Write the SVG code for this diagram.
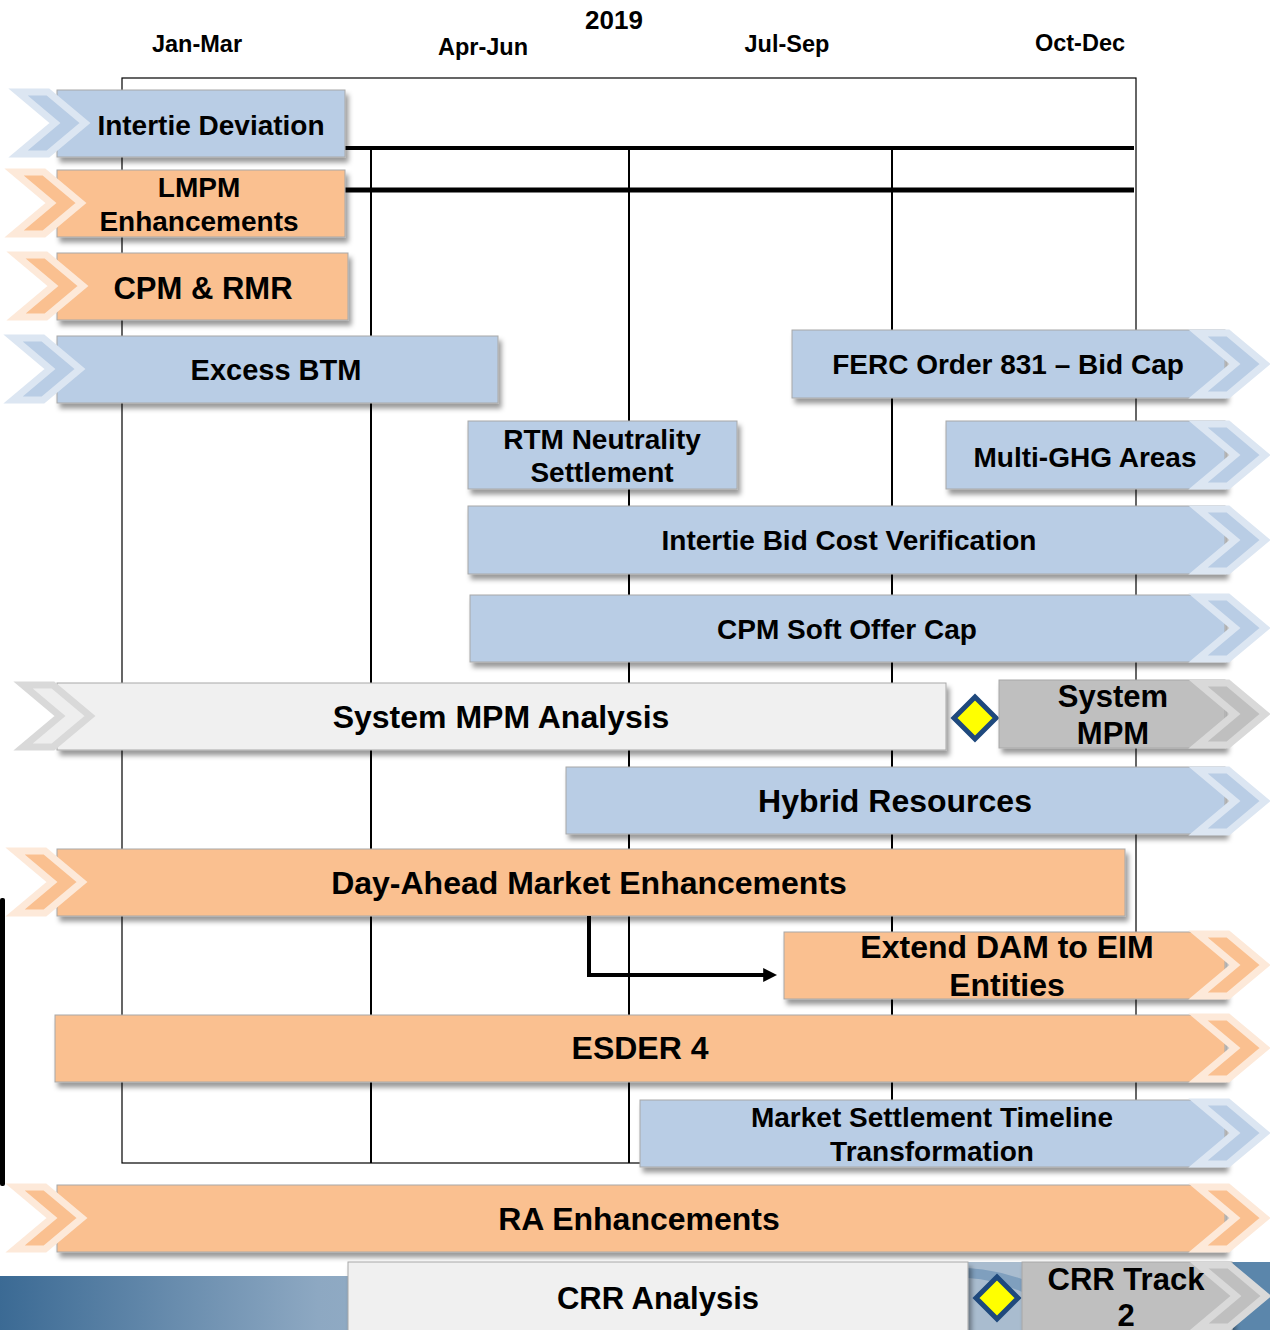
<svg xmlns="http://www.w3.org/2000/svg" xmlns:xlink="http://www.w3.org/1999/xlink" width="1270" height="1330" viewBox="0 0 1270 1330">
<style>
text{font-family:"Liberation Sans",Arial,sans-serif;font-weight:bold;fill:#000;text-anchor:middle}
.hdr{font-size:23.5px}
.t28{font-size:28px}
.t32{font-size:32px}
.bar{stroke:#a8a8a8;stroke-width:1;filter:url(#sh)}
.blue{fill:#b9cde5}
.orange{fill:#fac090}
.lgrey{fill:#f0f0f0}
.grey{fill:#bfbfbf}
.cb{fill:#b9cde5;stroke:#dce6f2;stroke-width:7;stroke-linejoin:miter}
.co{fill:#fac090;stroke:#fde9d9;stroke-width:7;stroke-linejoin:miter}
.cl{fill:#eeeeee;stroke:#d9d9d9;stroke-width:7;stroke-linejoin:miter}
.cg{fill:#bfbfbf;stroke:#d9d9d9;stroke-width:7;stroke-linejoin:miter}
.grid{stroke:#000;fill:none}
.dia{fill:#ffff00;stroke:#1f497d;stroke-width:5;stroke-linejoin:miter}
</style>
<defs>
<filter id="sh" x="-5%" y="-20%" width="115%" height="160%">
<feDropShadow dx="3" dy="5" stdDeviation="2.5" flood-color="#000" flood-opacity="0.4"/>
</filter>
<path id="chev" d="M3,3 H33 L70,34 L33,65 H3 L40,34 Z"/>
<marker id="ah" markerWidth="14" markerHeight="14" markerUnits="userSpaceOnUse" viewBox="0 0 10 10" refX="2" refY="5" orient="auto">
<path d="M0,0 L10,5 L0,10 Z" fill="#000"/>
</marker>
<linearGradient id="bg" x1="0" y1="0" x2="1" y2="0">
<stop offset="0" stop-color="#3b6a94"/>
<stop offset="0.25" stop-color="#8da8c2"/>
<stop offset="0.55" stop-color="#a8bccf"/>
<stop offset="0.8" stop-color="#9fb4c9"/>
<stop offset="1" stop-color="#4d7ca4"/>
</linearGradient>
</defs>

<!-- header -->
<g id="header">
<text x="614" y="29" style="font-size:26px">2019</text>
<text class="hdr" x="197" y="52">Jan-Mar</text>
<text class="hdr" x="483" y="55">Apr-Jun</text>
<text class="hdr" x="787" y="52">Jul-Sep</text>
<text class="hdr" x="1080" y="51">Oct-Dec</text>
</g>

<!-- frame and grid -->
<g id="grid" class="grid">
<rect x="122" y="78" width="1014" height="1085" stroke-width="1.2"/>
<line x1="371" y1="148" x2="371" y2="1163" stroke-width="2"/>
<line x1="629" y1="148" x2="629" y2="1163" stroke-width="2"/>
<line x1="892" y1="148" x2="892" y2="1163" stroke-width="2"/>
<line x1="345" y1="148" x2="1134" y2="148" stroke-width="4"/>
<line x1="345" y1="190" x2="1134" y2="190" stroke-width="5"/>
</g>
<rect id="leftbar" x="0" y="898" width="5" height="288" rx="2" fill="#000"/>

<!-- bottom background -->
<g id="background">
<rect x="0" y="1276" width="1270" height="54" fill="url(#bg)"/>
<path d="M968,1262 H1270 V1330 H968 Z" fill="#a9bccf"/>
<path d="M968,1268 Q1000,1270 1030,1282 L1030,1296 Q1000,1280 968,1278 Z" fill="#7f9fbe"/>
<path d="M1230,1262 H1270 V1330 H1230 Z" fill="#5b86ab"/>
</g>

<g id="node-intertie-deviation">
<rect class="bar blue" x="57" y="90" width="288" height="67"/>
<use href="#chev" class="cb" x="15" y="89"/>
<text class="t28" x="211" y="135">Intertie Deviation</text>
</g>

<g id="node-lmpm">
<rect class="bar orange" x="57" y="170" width="288" height="67"/>
<use href="#chev" class="co" x="11" y="169"/>
<text class="t28" x="199" y="197">LMPM</text>
<text class="t28" x="199" y="231">Enhancements</text>
</g>

<g id="node-cpm-rmr">
<rect class="bar orange" x="57" y="253" width="291" height="67"/>
<use href="#chev" class="co" x="13" y="252"/>
<text x="203" y="299" style="font-size:31px">CPM &amp; RMR</text>
</g>

<g id="node-excess-btm">
<rect class="bar blue" x="57" y="336" width="441" height="67"/>
<use href="#chev" class="cb" x="10" y="335"/>
<text x="276" y="380" style="font-size:29px">Excess BTM</text>
</g>

<g id="node-ferc">
<rect class="bar blue" x="792" y="330" width="433" height="68"/>
<use href="#chev" class="cb" x="1195" y="330"/>
<text class="t28" x="1008" y="374">FERC Order 831 – Bid Cap</text>
</g>

<g id="node-rtm">
<rect class="bar blue" x="468" y="421" width="269" height="68"/>
<text class="t28" x="602" y="449">RTM Neutrality</text>
<text class="t28" x="602" y="482">Settlement</text>
</g>

<g id="node-multi-ghg">
<rect class="bar blue" x="946" y="421" width="279" height="68"/>
<use href="#chev" class="cb" x="1195" y="421"/>
<text class="t28" x="1085" y="467">Multi-GHG Areas</text>
</g>

<g id="node-ibcv">
<rect class="bar blue" x="468" y="506" width="757" height="68"/>
<use href="#chev" class="cb" x="1195" y="506"/>
<text class="t28" x="849" y="550">Intertie Bid Cost Verification</text>
</g>

<g id="node-cpm-soft">
<rect class="bar blue" x="470" y="595" width="755" height="67"/>
<use href="#chev" class="cb" x="1195" y="594"/>
<text class="t28" x="847" y="639">CPM Soft Offer Cap</text>
</g>

<g id="node-system-mpm-analysis">
<rect class="bar lgrey" x="57" y="683" width="889" height="67"/>
<use href="#chev" class="cl" x="20" y="682"/>
<text class="t32" x="501" y="728">System MPM Analysis</text>
</g>

<g id="milestone-1">
<path class="dia" d="M975,697 L996,718 L975,739 L954,718 Z"/>
</g>

<g id="node-system-mpm">
<rect class="bar grey" x="999" y="680" width="226" height="68"/>
<use href="#chev" class="cg" x="1195" y="680"/>
<text x="1113" y="707" style="font-size:31px">System</text>
<text x="1113" y="744" style="font-size:31px">MPM</text>
</g>

<g id="node-hybrid">
<rect class="bar blue" x="566" y="767" width="659" height="67"/>
<use href="#chev" class="cb" x="1195" y="767"/>
<text class="t32" x="895" y="812">Hybrid Resources</text>
</g>

<g id="node-dame">
<rect class="bar orange" x="57" y="849" width="1068" height="67"/>
<use href="#chev" class="co" x="12" y="848"/>
<text class="t32" x="589" y="894">Day-Ahead Market Enhancements</text>
</g>

<g id="connectors">
<path d="M589,916 V975 H766" fill="none" stroke="#000" stroke-width="4" marker-end="url(#ah)"/>
</g>

<g id="node-extend-dam">
<rect class="bar orange" x="784" y="932" width="441" height="67"/>
<use href="#chev" class="co" x="1195" y="931"/>
<text class="t32" x="1007" y="958">Extend DAM to EIM</text>
<text class="t32" x="1007" y="996">Entities</text>
</g>

<g id="node-esder">
<rect class="bar orange" x="55" y="1015" width="1170" height="67"/>
<use href="#chev" class="co" x="1195" y="1014"/>
<text class="t32" x="640" y="1059">ESDER 4</text>
</g>

<g id="node-mstt">
<rect class="bar blue" x="640" y="1100" width="585" height="67"/>
<use href="#chev" class="cb" x="1195" y="1099"/>
<text class="t28" x="932" y="1127">Market Settlement Timeline</text>
<text class="t28" x="932" y="1161">Transformation</text>
</g>

<g id="node-ra">
<rect class="bar orange" x="57" y="1185" width="1168" height="67"/>
<use href="#chev" class="co" x="12" y="1184"/>
<use href="#chev" class="co" x="1195" y="1184"/>
<text class="t32" x="639" y="1230">RA Enhancements</text>
</g>

<g id="node-crr-analysis">
<rect class="bar lgrey" x="348" y="1262" width="620" height="80"/>
<text x="658" y="1309" style="font-size:31px">CRR Analysis</text>
</g>

<g id="milestone-2">
<path class="dia" d="M997,1277 L1018,1298 L997,1319 L976,1298 Z"/>
</g>

<g id="node-crr-track">
<rect class="bar grey" x="1022" y="1262" width="210" height="80"/>
<use href="#chev" class="cg" x="1196" y="1262"/>
<text x="1126" y="1290" style="font-size:31px">CRR Track</text>
<text x="1126" y="1326" style="font-size:31px">2</text>
</g>
</svg>
